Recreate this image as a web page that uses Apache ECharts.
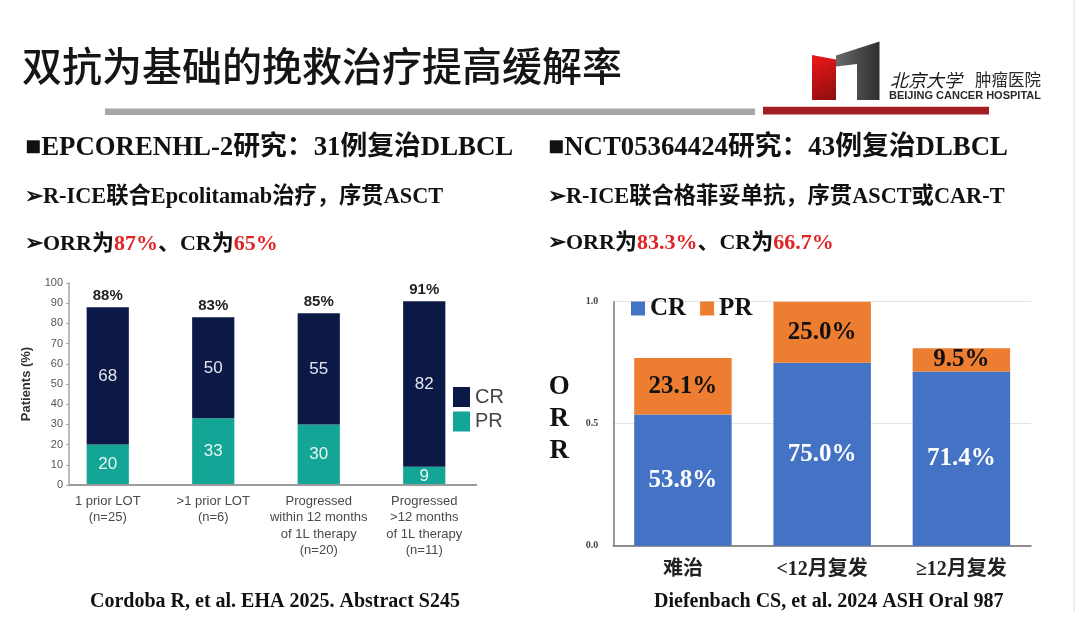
<!DOCTYPE html>
<html><head><meta charset="utf-8">
<script src="https://cdn.jsdelivr.net/npm/echarts@6/dist/echarts.min.js"></script>
<style>html,body{margin:0;padding:0;background:#fff}#c{width:1080px;height:641px}</style>
</head><body><div id="c"></div>
<script>
// ---- data ----
const leftCategories = ['1 prior LOT\n(n=25)', '>1 prior LOT\n(n=6)', 'Progressed\nwithin 12 months\nof 1L therapy\n(n=20)', 'Progressed\n>12 months\nof 1L therapy\n(n=11)'];
const leftCR = [68, 50, 55, 82];
const leftPR = [20, 33, 30, 9];
const leftYMax = 100, leftYStep = 10;

const rightCategories = ['难治', '<12月复发', '≥12月复发'];
const rightCR = [0.538, 0.750, 0.714];
const rightPR = [0.231, 0.250, 0.095];
const rightYMax = 1.0, rightYStep = 0.5;

// ---- style ----
const NAVY = '#0c1947', TEAL = '#13a596', BLUE = '#4472c4', ORANGE = '#ed7d31';
const SERIF = '"Liberation Serif","Times New Roman","Noto Sans CJK SC",serif';
const SANS = '"Liberation Sans",Arial,"Noto Sans CJK SC",sans-serif';
const CJK = '"Noto Sans CJK SC",sans-serif';

const chart = echarts.init(document.getElementById('c'), null, {renderer: 'canvas'});

function txt(id, x, y, text, font, fill, extra) {
  return {id: id, type: 'text', style: Object.assign({x: x, y: y, text: text, font: font, fill: fill, align: 'left', verticalAlign: 'middle'}, extra || {})};
}
const redRich = {r: {fill: '#e02424', font: 'bold 22px ' + SERIF}};

const graphics = [
  txt('title', 22, 66, '双抗为基础的挽救治疗提高缓解率', '500 40px ' + CJK, '#151515'),
  {id: 'greyLine', type: 'rect', shape: {x: 105, y: 108.5, width: 650, height: 6.5}, style: {fill: '#a7a7a7'}},
  {id: 'redLine', type: 'rect', shape: {x: 763, y: 106.8, width: 226, height: 7.6}, style: {fill: '#a31d25'}},
  {id: 'logoRed', type: 'polygon', shape: {points: [[812, 55], [836, 59.5], [836, 100], [812, 100]]},
    style: {fill: new echarts.graphic.LinearGradient(0, 0, 1, 1, [{offset: 0, color: '#f01818'}, {offset: 1, color: '#8c0d10'}])}},
  {id: 'logoGrey', type: 'polygon', shape: {points: [[836, 55.5], [879.5, 41.5], [879.5, 100], [857, 100], [857, 64], [836, 66.5]]},
    style: {fill: new echarts.graphic.LinearGradient(0, 0, 1, 0, [{offset: 0, color: '#6a6a6a'}, {offset: 1, color: '#2e2e2e'}])}},
  txt('logoCn1', 890, 80, '北京大学', 'italic 18px ' + CJK, '#1a1a1a'),
  txt('logoCn2', 975, 80, '肿瘤医院', '16.5px ' + CJK, '#2a2a2a'),
  txt('logoEn', 889, 95.5, 'BEIJING CANCER HOSPITAL', 'bold 11px ' + SANS, '#2a2a2a'),
  txt('h1', 25, 148.5, '■EPCORENHL-2研究：31例复治DLBCL', 'bold 26.8px ' + SERIF, '#111'),
  txt('h2', 548, 148.5, '■NCT05364424研究：43例复治DLBCL', 'bold 26.8px ' + SERIF, '#111'),
  txt('s1', 25, 197.5, '➢R-ICE联合Epcolitamab治疗，序贯ASCT', 'bold 22.3px ' + SERIF, '#111'),
  txt('s2', 548, 197, '➢R-ICE联合格菲妥单抗，序贯ASCT或CAR-T', 'bold 22.3px ' + SERIF, '#111'),
  txt('o1', 25, 244, '➢ORR为{r|87%}、CR为{r|65%}', 'bold 22px ' + SERIF, '#111', {rich: redRich}),
  txt('o2', 548, 243.5, '➢ORR为{r|83.3%}、CR为{r|66.7%}', 'bold 22px ' + SERIF, '#111', {rich: redRich}),
  txt('f1', 90, 602, 'Cordoba R, et al. EHA 2025. Abstract S245', 'bold 20px ' + SERIF, '#111'),
  txt('f2', 654, 602, 'Diefenbach CS, et al. 2024 ASH Oral 987', 'bold 20px ' + SERIF, '#111'),
  {id: 'edge', type: 'line', shape: {x1: 1074, y1: 0, x2: 1074, y2: 611}, style: {stroke: '#ececec', lineWidth: 2}}
];

const option = {
  backgroundColor: '#ffffff',
  animation: false,
  graphic: {elements: graphics},
  legend: [
    {data: ['CR', 'PR'], orient: 'vertical', left: 448, top: 382, itemWidth: 17, itemHeight: 20, itemGap: 4.5,
      icon: 'rect', selectedMode: false, textStyle: {fontFamily: SANS, fontSize: 20, color: '#454545'}},
    {data: ['CR_r', 'PR_r'], orient: 'horizontal', left: 626, top: 291, itemWidth: 14, itemHeight: 14, itemGap: 14,
      icon: 'rect', selectedMode: false, formatter: n => n.replace('_r', ''),
      textStyle: {fontFamily: SERIF, fontWeight: 'bold', fontSize: 25, color: '#111'}}
  ],
  grid: [
    {left: 55, top: 283, width: 422, height: 202},
    {left: 613.3, top: 301.7, width: 417.7, height: 244}
  ],
  xAxis: [
    {type: 'category', gridIndex: 0, data: leftCategories, axisLine: {show: false}, axisTick: {show: false},
      axisLabel: {fontFamily: SANS, fontSize: 13, color: '#4a4a4a', lineHeight: 16.5, margin: 8, interval: 0}},
    {type: 'category', gridIndex: 1, data: rightCategories, axisLine: {show: true, lineStyle: {color: '#6e6e6e', width: 1.5}}, axisTick: {show: false},
      axisLabel: {fontFamily: SERIF, fontWeight: 'bold', fontSize: 20, color: '#222', margin: 14, interval: 0}}
  ],
  yAxis: [
    {type: 'value', gridIndex: 0, min: 0, max: leftYMax, interval: leftYStep, offset: -14,
      name: 'Patients (%)', nameLocation: 'middle', nameGap: 36,
      nameTextStyle: {fontFamily: SANS, fontWeight: 'bold', fontSize: 13, color: '#333'},
      axisLine: {show: true, lineStyle: {color: '#a5a5a5', width: 1.5}},
      axisTick: {show: true, length: 3, lineStyle: {color: '#a5a5a5'}},
      axisLabel: {fontFamily: SANS, fontSize: 11, color: '#555', margin: 6},
      splitLine: {show: false}},
    {type: 'value', gridIndex: 1, min: 0, max: rightYMax, interval: rightYStep,
      name: '{t|O}\n{t|R}\n{t|R}\n{s|}', nameLocation: 'middle', nameGap: 54, nameRotate: 0,
      nameTextStyle: {align: 'center', verticalAlign: 'middle',
        rich: {t: {fontFamily: SERIF, fontWeight: 'bold', fontSize: 27, color: '#111', lineHeight: 32, align: 'center'},
               s: {height: 10, lineHeight: 10}}},
      axisLine: {show: true, lineStyle: {color: '#7a7a7a', width: 1.5}},
      axisTick: {show: false},
      axisLabel: {fontFamily: SERIF, fontWeight: 'bold', fontSize: 10, color: '#444', margin: 15, formatter: v => v.toFixed(1)},
      splitLine: {show: true, lineStyle: {color: '#e4e4e4', width: 1}}}
  ],
  series: [
    {name: 'PR', type: 'bar', xAxisIndex: 0, yAxisIndex: 0, stack: 'L', barWidth: '40%', data: leftPR,
      itemStyle: {color: TEAL},
      label: {show: true, position: 'inside', fontFamily: SANS, fontSize: 17, color: '#eaf6f4'}},
    {name: 'CR', type: 'bar', xAxisIndex: 0, yAxisIndex: 0, stack: 'L', barWidth: '40%', data: leftCR,
      itemStyle: {color: NAVY},
      label: {show: true, position: 'inside', fontFamily: SANS, fontSize: 17, color: '#e4e6ee'}},
    {name: 'ORR', type: 'bar', xAxisIndex: 0, yAxisIndex: 0, stack: 'L', barWidth: '40%', data: leftCR.map(() => 0),
      itemStyle: {color: 'rgba(0,0,0,0)'}, silent: true,
      label: {show: true, position: 'top', distance: 4, fontFamily: SANS, fontWeight: 'bold', fontSize: 15, color: '#222',
        formatter: p => (leftCR[p.dataIndex] + leftPR[p.dataIndex]) + '%'}},
    {name: 'CR_r', type: 'bar', xAxisIndex: 1, yAxisIndex: 1, stack: 'R', barWidth: '70%', data: rightCR,
      itemStyle: {color: BLUE},
      label: {show: true, position: 'inside', fontFamily: SERIF, fontWeight: 'bold', fontSize: 25, color: '#ffffff',
        formatter: p => (p.value * 100).toFixed(1) + '%'}},
    {name: 'PR_r', type: 'bar', xAxisIndex: 1, yAxisIndex: 1, stack: 'R', barWidth: '70%', data: rightPR,
      itemStyle: {color: ORANGE},
      label: {show: true, position: 'inside', fontFamily: SERIF, fontWeight: 'bold', fontSize: 25, color: '#111',
        formatter: p => (p.value * 100).toFixed(1) + '%'}}
  ]
};
chart.setOption(option);

// left x-axis baseline: from the (offset) y-axis to the right edge of the grid, at value 0
const rect = chart.getModel().getComponent('grid', 0).coordinateSystem.getRect();
const y0 = chart.convertToPixel({yAxisIndex: 0}, 0);
const axisX = rect.x + 14;
chart.setOption({graphic: {elements: [
  {id: 'leftXAxis', type: 'line', z: 10, shape: {x1: axisX, y1: y0, x2: rect.x + rect.width, y2: y0}, style: {stroke: '#9a9a9a', lineWidth: 2}}
]}});
</script></body></html>
